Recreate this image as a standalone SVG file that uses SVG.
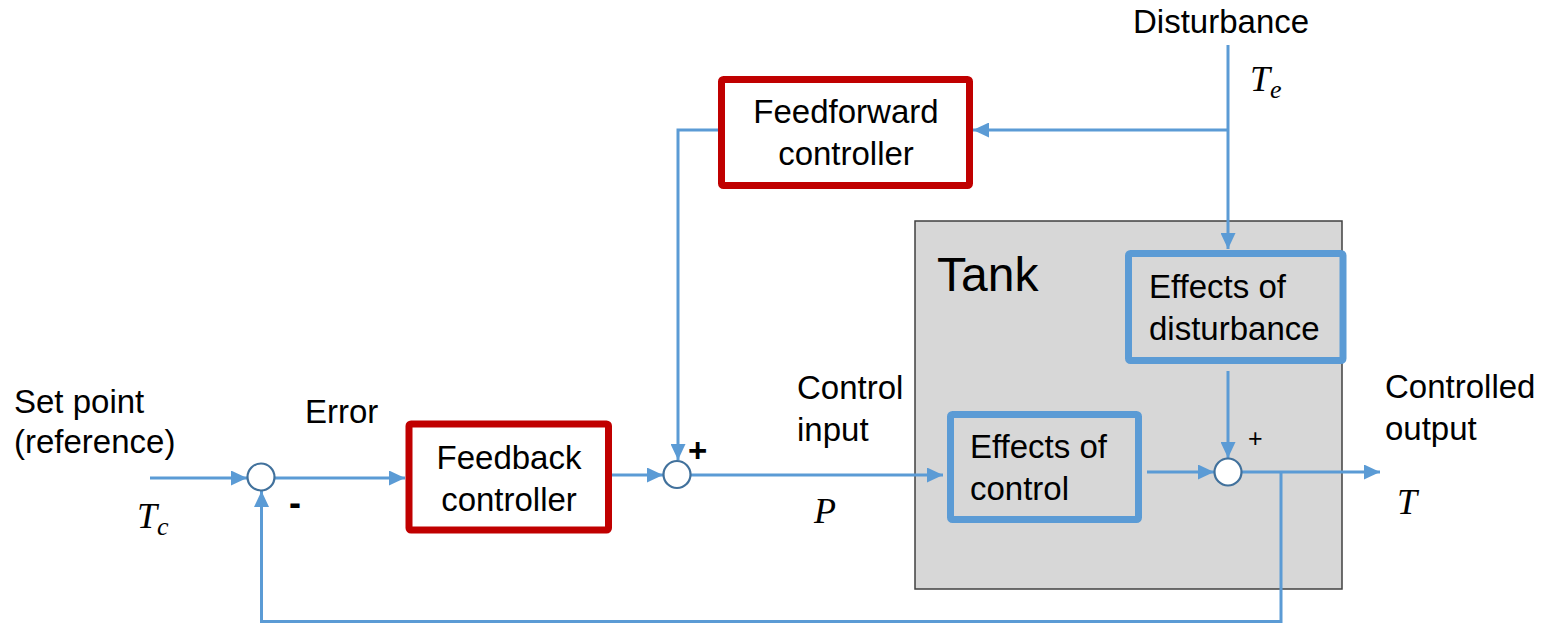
<svg xmlns="http://www.w3.org/2000/svg" width="1546" height="624" viewBox="0 0 1546 624">
<defs>
<marker id="arr" markerUnits="userSpaceOnUse" markerWidth="17" markerHeight="15" refX="16" refY="7.5" orient="auto">
<path d="M0,0 L16,7.5 L0,15 z" fill="#5b9bd5"/>
</marker>
<style>
.t{font-family:"Liberation Sans",Arial,sans-serif;font-size:33px;fill:#000}
.m{font-family:"Liberation Serif","Times New Roman",serif;font-style:italic;fill:#000}
.red{fill:#fff;stroke:#c00000;stroke-width:7}
.blue{fill:#d7d7d7;stroke:#5b9bd5;stroke-width:7}
.sum{fill:#fff;stroke:#41719c;stroke-width:2.2}
.c{fill:none;stroke:#5b9bd5;stroke-width:3}
</style>
</defs>
<rect width="1546" height="624" fill="#fff"/>
<g id="tank">
<rect x="915" y="221" width="427" height="368" fill="#d7d7d7" stroke="#404040" stroke-width="1.5"/>
<text class="t" x="937" y="291" style="font-size:48px">Tank</text>
</g>
<g id="connectors">
<path class="c" d="M150,478 H247" marker-end="url(#arr)"/>
<path class="c" d="M275,478 H405" marker-end="url(#arr)"/>
<path class="c" d="M612,475 H663" marker-end="url(#arr)"/>
<path class="c" d="M718,130 H678 V460" marker-end="url(#arr)"/>
<path class="c" d="M691,475 H943" marker-end="url(#arr)"/>
<path class="c" d="M1228,45 V249" marker-end="url(#arr)"/>
<path class="c" d="M1228,130 H973" marker-end="url(#arr)"/>
<path class="c" d="M1228,371 V458" marker-end="url(#arr)"/>
<path class="c" d="M1147,472 H1214" marker-end="url(#arr)"/>
<path class="c" d="M1242,472 H1380" marker-end="url(#arr)"/>
<path class="c" d="M1281,472 V621.5 H261.5 V491" marker-end="url(#arr)"/>
</g>
<g id="sum1"><circle class="sum" cx="261" cy="477" r="13.5"/></g>
<g id="sum2"><circle class="sum" cx="677" cy="474.5" r="13.5"/></g>
<g id="sum3"><circle class="sum" cx="1228" cy="472" r="13.5"/></g>
<g id="feedback">
<rect class="red" x="409" y="424" width="199.5" height="106" rx="2"/>
<text class="t" x="509" y="469" text-anchor="middle">Feedback</text>
<text class="t" x="509" y="511" text-anchor="middle">controller</text>
</g>
<g id="feedforward">
<rect class="red" x="721.5" y="79.5" width="248" height="106" rx="2"/>
<text class="t" x="846" y="123" text-anchor="middle">Feedforward</text>
<text class="t" x="846" y="165" text-anchor="middle">controller</text>
</g>
<g id="dist-effects">
<rect class="blue" x="1128.5" y="253.5" width="214.5" height="107" rx="2"/>
<text class="t" x="1149" y="298">Effects of</text>
<text class="t" x="1149" y="340">disturbance</text>
</g>
<g id="control-effects">
<rect class="blue" x="950.5" y="414.5" width="188" height="105" rx="2"/>
<text class="t" x="970" y="458">Effects of</text>
<text class="t" x="970" y="500">control</text>
</g>
<g id="labels">
<text class="t" x="14" y="413">Set point</text>
<text class="t" x="14" y="453">(reference)</text>
<text class="t" x="305" y="423">Error</text>
<text class="t" x="797" y="399">Control</text>
<text class="t" x="797" y="441">input</text>
<text class="t" x="1133" y="33">Disturbance</text>
<text class="t" x="1385" y="398">Controlled</text>
<text class="t" x="1385" y="440">output</text>
<text class="t" x="289" y="515" style="font-weight:bold;font-size:36px">-</text>
<text class="t" x="688" y="462" style="font-weight:bold;font-size:33px">+</text>
<text class="t" x="1248" y="447" style="font-size:25px">+</text>
<text class="m" x="137" y="528" font-size="36">T</text>
<text class="m" x="157" y="535" font-size="26">c</text>
<text class="m" x="1250" y="91" font-size="36">T</text>
<text class="m" x="1270" y="98" font-size="26">e</text>
<text class="m" x="814" y="523" font-size="36">P</text>
<text class="m" x="1397" y="514" font-size="36">T</text>
</g>
</svg>
